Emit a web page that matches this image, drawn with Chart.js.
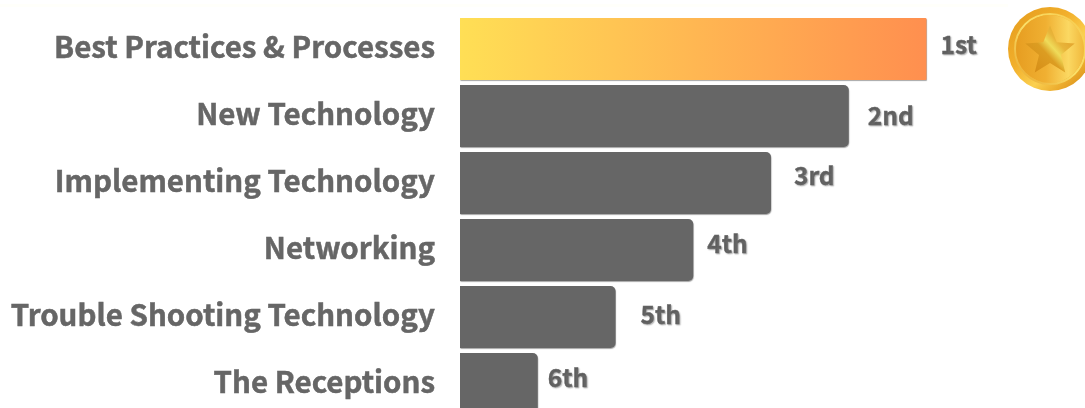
<!DOCTYPE html>
<html><head><meta charset="utf-8">
<style>html,body{margin:0;padding:0;background:#fff;overflow:hidden;width:1085px;height:408px}
#w{position:relative;width:1085px;height:430px}</style>
<script src="https://cdn.jsdelivr.net/npm/chart.js@4"></script></head>
<body><div id="w"><canvas id="c" width="1085" height="430"></canvas></div>
<script>
const categories=["Best Practices & Processes","New Technology","Implementing Technology","Networking","Trouble Shooting Technology","The Receptions"];
const scores=[6,5,4,3,2,1];
const ranks=["1st","2nd","3rd","4th","5th","6th"];
const rankDx=[14,19,23,14,25,10];
const rankDy=[-4,0,-7,-6,-2,-6];
const LFONT='700 24.5px "Noto Sans CJK JP"';
function star(ctx,x,y,R,r){ctx.beginPath();for(let i=0;i<10;i++){const a=-Math.PI/2+i*Math.PI/5,q=i%2?r:R;ctx.lineTo(x+q*Math.cos(a),y+q*Math.sin(a));}ctx.closePath();}
const decor={id:'decor',
 beforeDraw(ch){const c=ch.ctx;c.save();c.fillStyle='#fffffa';c.fillRect(0,4,1008,3);c.restore();},
 beforeDatasetDraw(ch){const c=ch.ctx;c.save();c.shadowColor='rgba(0,0,0,.35)';c.shadowBlur=1;c.shadowOffsetY=1;c.shadowOffsetX=0.5;},
 afterDatasetDraw(ch){ch.ctx.restore();},
 afterDraw(ch){const c=ch.ctx,m=ch.getDatasetMeta(0);
  c.save();c.font=LFONT;c.textAlign='left';c.textBaseline='middle';c.fillStyle='#666';
  c.strokeStyle='#666';c.lineWidth=.4;
  c.shadowColor='rgba(0,0,0,.3)';c.shadowBlur=1.5;c.shadowOffsetX=1;c.shadowOffsetY=1;
  m.data.forEach((b,i)=>{c.fillText(ranks[i],b.x+rankDx[i],b.y+rankDy[i]);c.strokeText(ranks[i],b.x+rankDx[i],b.y+rankDy[i]);});
  c.restore();
  const x=1050,y=m.data[0].y,R=42;c.save();
  let g=c.createLinearGradient(x-R,y-R,x+R,y+R);g.addColorStop(0,'#e39a1c');g.addColorStop(.4,'#f2b02c');g.addColorStop(.62,'#fbd050');g.addColorStop(.8,'#eaa82a');g.addColorStop(1,'#c9800f');
  c.fillStyle=g;c.beginPath();c.arc(x,y,R,0,7);c.fill();
  g=c.createLinearGradient(x-R,y+R,x+R,y-R);g.addColorStop(0,'#e59a1e');g.addColorStop(.5,'#fae06a');g.addColorStop(1,'#f5c445');
  c.strokeStyle=g;c.lineWidth=2;c.beginPath();c.arc(x,y,R-7,0,7);c.stroke();
  g=c.createLinearGradient(x-R,y,x+R,y);g.addColorStop(0,'#e4981c');g.addColorStop(.45,'#f0b032');g.addColorStop(.72,'#fbd862');g.addColorStop(1,'#eba828');
  c.fillStyle=g;c.beginPath();c.arc(x,y,R-8,0,7);c.fill();
  g=c.createLinearGradient(x-20,y+20,x+20,y-16);g.addColorStop(0,'#d68c16');g.addColorStop(.42,'#dc9d22');g.addColorStop(.58,'#efdc5a');g.addColorStop(.72,'#e8b53a');g.addColorStop(1,'#e2a02a');
  c.fillStyle=g;star(c,x,y+2.5,26,11.5);c.fill();c.restore();
 }};
new Chart(document.getElementById('c'),{type:'bar',plugins:[decor],
 data:{labels:categories,datasets:[{data:scores,
  backgroundColor(ctx){if(ctx.dataIndex!==0)return '#666';const a=ctx.chart.chartArea;if(!a)return '#ffdf55';
   const g=ctx.chart.ctx.createLinearGradient(a.left,0,ctx.chart.scales.x.getPixelForValue(scores[0]),0);g.addColorStop(0,'#ffdf55');g.addColorStop(1,'#ff8f4f');return g;},
  borderRadius(ctx){return ctx.dataIndex===0?{topRight:1,bottomRight:1}:{topRight:5,bottomRight:5};},borderSkipped:false,borderWidth:0,
  categoryPercentage:1,barPercentage:.925}]},
 options:{indexAxis:'y',responsive:false,animation:false,devicePixelRatio:1,
  layout:{padding:{top:15.5,bottom:12.5,left:0,right:3}},
  plugins:{legend:{display:false},tooltip:{enabled:false}},
  scales:{
   x:{display:false,min:0,max:8,grid:{display:false}},
   y:{afterFit(s){s.width=460;s.paddingTop=0;s.paddingBottom=0;},grid:{display:false},border:{display:false},
      ticks:{color:'#666',padding:17,labelOffset:-2.5,textStrokeColor:'#666',textStrokeWidth:.5,font:{family:'"Noto Sans CJK JP"',size:29.5,weight:'700'},autoSkip:false}}
  }}});
</script></body></html>
